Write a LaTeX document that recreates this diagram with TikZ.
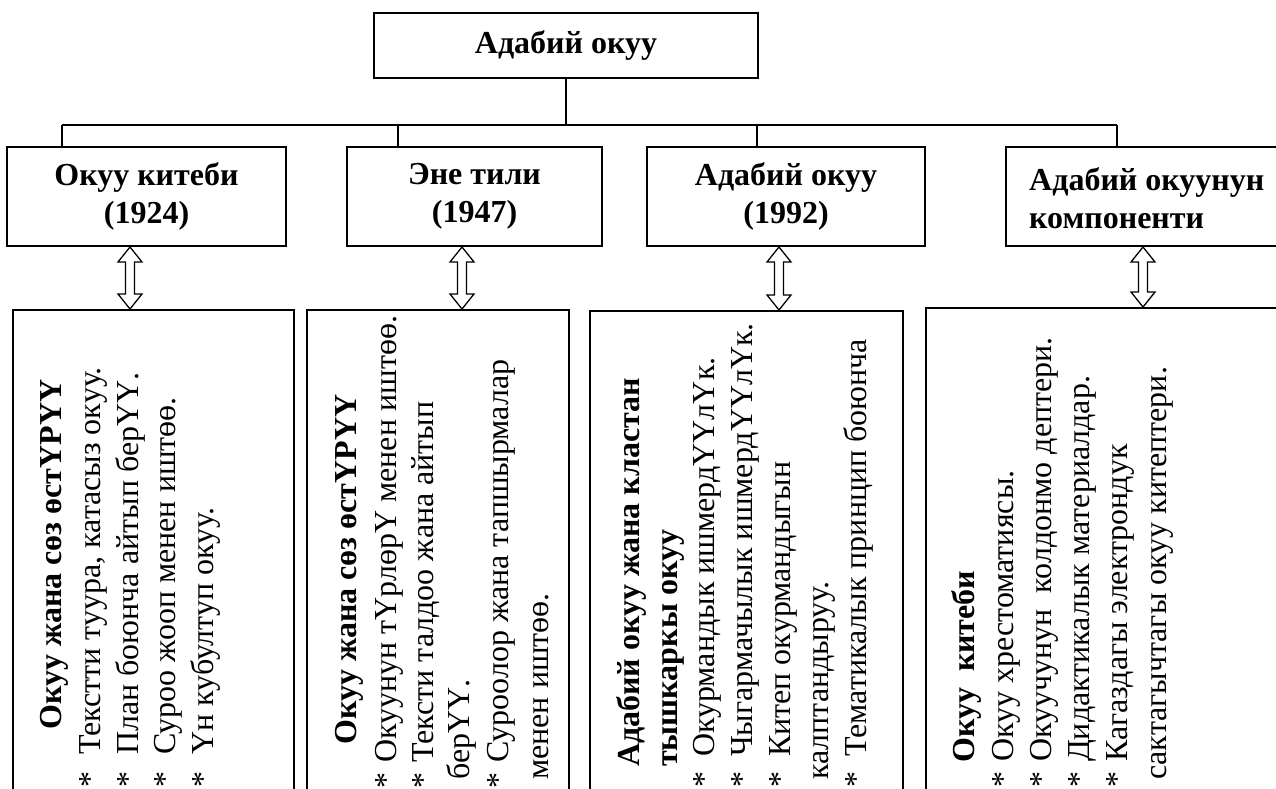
\documentclass[tikz,border=0pt]{standalone}
\usepackage{fontspec}
\setmainfont{Liberation Serif}
\usetikzlibrary{calc}
\newcommand\mk[1]{\makebox[#1][l]{*}}
\newcommand\dblarrow[3]{%
  \draw[hollowarr] let \p1=(#1|-#2.south), \p2=(#1|-#3.north) in
   (\x1,\y1) -- (\x1+12pt,\y1-15pt) -- (\x1+4.5pt,\y1-15pt) -- (\x1+4.5pt,\y2+15pt)
   -- (\x1+12pt,\y2+15pt) -- (\x1,\y2) -- (\x1-12pt,\y2+15pt) -- (\x1-4.5pt,\y2+15pt)
   -- (\x1-4.5pt,\y1-15pt) -- (\x1-12pt,\y1-15pt) -- cycle;}
\begin{document}
\begin{tikzpicture}[x=1pt,y=-1pt,
  box/.style={draw, line width=2pt, inner sep=0pt},
  lbl/.style={font=\bfseries\fontsize{32}{37.5}\selectfont, align=center},
  rt/.style={rotate=90, anchor=base west, inner sep=0pt, font=\fontsize{32}{37.5}\selectfont},
  rtb/.style={rt, font=\bfseries\fontsize{32}{37.5}\selectfont},
  conn/.style={line width=1.3pt},
  bar/.style={line width=2.2pt},
  hollowarr/.style={draw, line width=1.3pt, fill=white, line join=miter}]
\useasboundingbox (0,0) rectangle (1276,789);

% top
\node[box, lbl, minimum width=384pt, minimum height=65pt] (top) at (566,45.5) {Адабий окуу};

% level 2
\node[box, lbl, minimum width=279pt, minimum height=99pt] (b1) at (146.5,196.5) {Окуу китеби\\(1924)};
\node[box, lbl, minimum width=255pt, minimum height=99pt] (b2) at (474.5,196.5) {Эне тили\\(1947)};
\node[box, lbl, minimum width=278pt, minimum height=99pt] (b3) at (786,196.5) {Адабий окуу\\(1992)};
\node[box, minimum width=284pt, minimum height=99pt] (b4) at (1148,196.5) {};
\node[lbl, align=left, anchor=west, inner sep=0pt] (b4t) at (1029,198) {Адабий окуунун\\компоненти};

% connectors
\coordinate (bar) at (0,125);
\coordinate (d1) at (62,0);
\coordinate (d2) at (398,0);
\coordinate (d3) at (757,0);
\coordinate (d4) at (1117,0);
\draw[conn] (top.south) -- (top.south |- bar);
\draw[bar] (d1 |- bar) -- (d4 |- bar);
\draw[conn] (d1 |- bar) -- (d1 |- b1.north);
\draw[conn] (d2 |- bar) -- (d2 |- b2.north);
\draw[conn] (d3 |- bar) -- (d3 |- b3.north);
\draw[conn] (d4 |- bar) -- (d4 |- b4.north);

% bottom boxes
\node[box, minimum width=281pt, minimum height=520pt] (c1) at (153.5,570) {};
\node[box, minimum width=262pt, minimum height=520pt] (c2) at (438,570) {};
\node[box, minimum width=313pt, minimum height=520pt] (c3) at (746.5,571) {};
\node[box, minimum width=364pt, minimum height=520pt] (c4) at (1108,568) {};

% double arrows
\coordinate (a1) at (130,0);
\coordinate (a2) at (462,0);
\coordinate (a3) at (779,0);
\coordinate (a4) at (1143,0);
\dblarrow{a1}{b1}{c1}
\dblarrow{a2}{b2}{c2}
\dblarrow{a3}{b3}{c3}
\dblarrow{a4}{b4}{c4}

% box 1 text
\node[rtb] (t1) at (61,730) {Окуу жана сөз өстҮРҮҮ};
\node[rt] (t1a) at (100,788) {\mk{33pt}Текстти туура, катасыз окуу.};
\node[rt] (t1b) at (138,788) {\mk{33pt}План боюнча айтып берҮҮ.};
\node[rt] (t1c) at (175,788) {\mk{33pt}Суроо жооп менен иштөө.};
\node[rt] (t1d) at (213,788) {\mk{33pt}Үн кубултуп окуу.};

% box 2 text
\node[rtb] (t2) at (356,745) {Окуу жана сөз өстҮРҮҮ};
\node[rt] (t2a) at (396,789) {\mk{26pt}Окуунун тҮрлөрҮ менен иштөө.};
\node[rt] (t2b) at (433,789) {\mk{26pt}Тексти талдоо жана айтып};
\node[rt] (t2c) at (469,780) {берҮҮ.};
\node[rt] (t2d) at (508,789) {\mk{26pt}Суроолор жана тапшырмалар};
\node[rt] (t2e) at (548,780) {менен иштөө.};

% box 3 text
\node[rtb] (t3) at (639,767) {Адабий окуу жана кластан};
\node[rtb] (t3x) at (677,767) {тышкаркы окуу};
\node[rt] (t3a) at (714,788) {\mk{31pt}Окурмандык ишмердҮҮлҮк.};
\node[rt] (t3b) at (752,788) {\mk{31pt}Чыгармачылык ишмердҮҮлҮк.};
\node[rt] (t3c) at (790,788) {\mk{31pt}Китеп окурмандыгын};
\node[rt] (t3d) at (828,780) {калптандыруу.};
\node[rt] (t3e) at (866,788) {\mk{31pt}Тематикалык принцип боюнча};

% box 4 text
\node[rtb] (t4) at (974,763) {Окуу\ \ китеби};
\node[rt] (t4a) at (1013,788) {\mk{26pt}Окуу хрестоматиясы.};
\node[rt] (t4b) at (1051,788) {\mk{26pt}Окуучунун\ \ колдонмо дептери.};
\node[rt] (t4c) at (1089,788) {\mk{26pt}Дидактикалык материалдар.};
\node[rt] (t4d) at (1127,788) {\mk{26pt}Кагаздагы электрондук};
\node[rt] (t4e) at (1166,780) {сактагычтагы окуу китептери.};
\end{tikzpicture}
\end{document}
